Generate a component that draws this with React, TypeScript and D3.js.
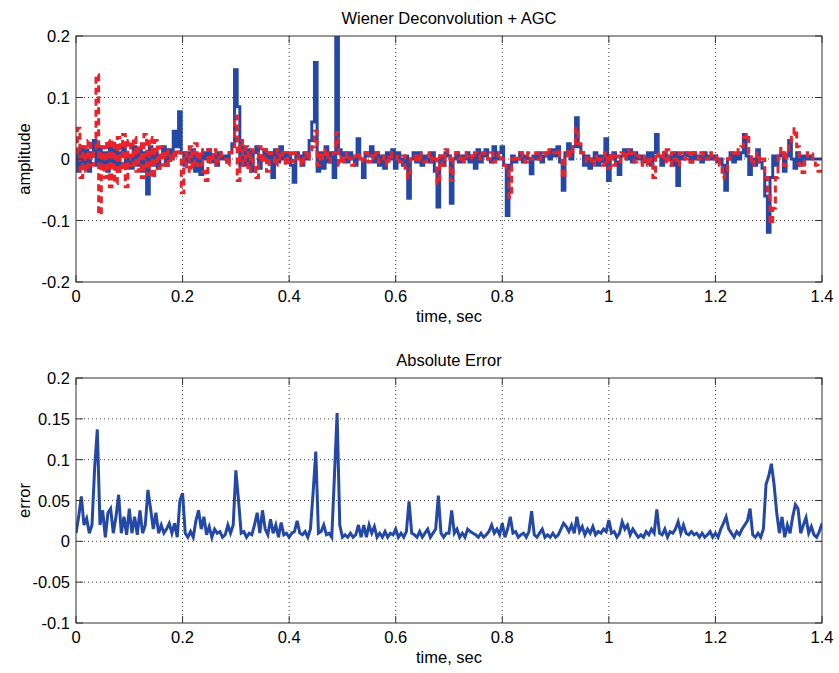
import React, { useRef, useEffect } from 'react';
import * as d3 from 'd3';

// samples every 5 ms, 0 .. 1.4 sec
const sampleStep = 0.005;

// blue trace (reference reflectivity)
const trueTrace = [
  0.01, -0.02, 0.02, -0.01, 0.015, -0.02, 0.01, 0.03, -0.01, 0.02, -0.015, 0.01, -0.02, 0.025, -0.01, 0.015, -0.02, 0.01, 0.02, -0.015,
  0.005, -0.015, 0.02, -0.01, 0.015, -0.02, 0.01, -0.057, 0.02, -0.01, 0.01, -0.015, 0.005, 0.02, -0.01, 0.015, 0.0, 0.045, 0.02, 0.077,
  0.01, -0.01, 0.01, -0.005, 0.015, -0.02, 0.005, -0.025, 0.01, 0.0, 0.015, -0.005, 0.005, -0.01, 0.01, 0.0, 0.005, -0.005, 0.01, 0.025,
  0.145, 0.085, -0.01, 0.02, -0.01, 0.015, -0.02, 0.01, 0.02, -0.015, 0.005, 0.015, -0.005, 0.01, -0.03, 0.015, -0.005, 0.02, 0.0, 0.01,
  0.005, -0.01, -0.038, 0.01, 0.005, -0.01, 0.01, 0.0, 0.03, 0.06, 0.157, -0.02, 0.01, -0.015, 0.02, -0.005, 0.01, -0.03, 0.215, 0.015,
  0.005, 0.01, -0.005, 0.01, 0.0, -0.01, 0.033, 0.0, -0.03, 0.01, 0.005, 0.02, -0.005, 0.01, -0.01, 0.005, -0.015, 0.01, 0.0, 0.015,
  -0.015, 0.01, 0.0, -0.01, 0.005, -0.064, 0.0, 0.01, -0.005, 0.01, -0.01, 0.005, 0.0, -0.005, 0.01, -0.02, -0.078, 0.005, -0.01, 0.01,
  0.005, -0.072, 0.0, 0.01, -0.005, 0.005, 0.0, 0.01, -0.005, 0.005, -0.015, 0.015, -0.005, 0.005, 0.015, 0.0, -0.005, 0.02, 0.0, 0.01,
  0.02, -0.01, -0.092, -0.01, 0.005, -0.005, 0.0, 0.01, -0.005, 0.005, 0.0, -0.024, 0.005, 0.0, 0.01, -0.005, 0.005, 0.01, 0.0, 0.015,
  0.005, 0.02, -0.005, -0.051, 0.01, 0.025, 0.0, 0.02, 0.067, 0.02, 0.01, -0.01, 0.005, -0.015, 0.0, 0.01, -0.01, 0.005, -0.005, 0.033,
  -0.035, 0.0, 0.01, -0.005, -0.025, 0.005, 0.015, 0.0, 0.015, -0.005, 0.01, 0.0, 0.005, -0.005, 0.0, 0.01, -0.01, 0.01, 0.04, 0.005,
  -0.01, 0.01, 0.0, 0.005, -0.01, 0.01, -0.043, 0.005, 0.0, 0.01, 0.005, -0.005, 0.01, 0.0, 0.005, -0.005, 0.01, 0.0, 0.005, 0.0,
  0.005, -0.005, 0.0, -0.01, -0.051, 0.0, 0.01, -0.005, 0.005, 0.0, 0.01, 0.04, 0.005, -0.025, 0.0, -0.01, 0.015, -0.005, -0.015, -0.06,
  -0.119, -0.03, 0.005, -0.01, 0.005, 0.01, -0.02, 0.005, 0.03, 0.0, -0.015, 0.01, -0.01, 0.005, 0.0, 0.0, 0.005, 0.0, 0.0, 0.0,
  0.0,
];

// red dashed trace (wiener deconvolution + agc estimate)
const estTrace = [
  0.01, 0.05, -0.03, 0.02, -0.02, 0.03, -0.01, 0.01, 0.137, -0.09, 0.02, -0.03, 0.03, -0.045, 0.03, -0.04, 0.035, -0.02, 0.04, -0.045,
  0.03, -0.01, 0.035, -0.02, 0.025, -0.03, 0.04, -0.025, 0.035, -0.03, 0.03, -0.015, 0.02, -0.01, 0.015, -0.01, 0.01, 0.0, 0.015, 0.01,
  -0.055, 0.01, -0.02, 0.02, -0.015, 0.025, -0.01, 0.015, -0.02, -0.035, 0.015, -0.005, 0.015, -0.01, 0.01, 0.005, 0.0, -0.01, 0.01, 0.02,
  0.07, -0.035, 0.03, -0.01, 0.02, -0.02, 0.015, -0.01, -0.03, 0.02, -0.005, 0.015, -0.02, 0.01, 0.005, -0.01, 0.015, 0.0, 0.01, -0.01,
  0.01, -0.005, 0.01, 0.0, 0.005, -0.01, 0.01, 0.0, 0.015, 0.02, 0.045, -0.01, 0.01, 0.0, 0.015, -0.005, 0.005, 0.01, 0.043, -0.01,
  0.005, -0.005, 0.01, 0.0, -0.01, 0.005, 0.01, -0.005, 0.0, 0.01, -0.005, 0.005, 0.0, 0.01, -0.005, 0.0, 0.005, -0.01, 0.01, 0.0,
  0.0, 0.005, -0.005, 0.005, -0.015, -0.03, 0.0, 0.005, -0.005, 0.01, 0.0, -0.005, 0.005, 0.01, -0.005, 0.0, -0.04, 0.005, -0.01, 0.015,
  0.005, -0.035, 0.0, 0.01, 0.0, 0.005, -0.005, 0.01, 0.005, 0.0, 0.01, 0.005, 0.0, 0.01, 0.005, 0.0, 0.01, -0.005, 0.005, 0.01,
  0.0, -0.01, -0.02, -0.062, 0.0, 0.005, 0.0, 0.01, 0.005, -0.005, 0.01, 0.0, 0.005, 0.01, 0.0, 0.005, 0.01, 0.005, 0.015, 0.01,
  0.01, 0.015, 0.005, -0.03, 0.0, 0.015, 0.005, 0.02, 0.05, 0.025, 0.01, 0.005, -0.005, 0.0, -0.01, 0.005, -0.005, 0.0, -0.01, 0.01,
  -0.015, 0.01, -0.01, 0.005, -0.005, 0.01, 0.0, 0.015, 0.005, 0.01, -0.005, 0.005, 0.0, -0.01, 0.005, -0.01, 0.0, -0.03, 0.01, 0.005,
  0.01, -0.005, 0.015, -0.01, 0.01, 0.0, -0.01, 0.01, 0.005, 0.0, 0.01, -0.005, 0.01, 0.005, 0.0, 0.01, 0.005, 0.0, 0.01, 0.005,
  0.0, 0.005, -0.01, -0.03, -0.02, 0.0, 0.005, 0.01, 0.005, 0.015, 0.02, 0.035, 0.04, 0.01, -0.01, 0.0, 0.01, -0.005, 0.0, -0.03,
  -0.06, -0.105, -0.08, -0.03, 0.005, 0.017, -0.01, 0.01, 0.025, 0.04, 0.049, 0.02, -0.01, -0.022, 0.0, 0.01, 0.008, 0.0, -0.01, -0.02,
  -0.02,
];

// absolute error
const absError = [
  0.01, 0.03, 0.055, 0.02, 0.028, 0.01, 0.02, 0.09, 0.137, 0.02, 0.038, 0.005, 0.035, 0.04, 0.01, 0.03, 0.057, 0.01, 0.03, 0.008,
  0.04, 0.01, 0.03, 0.008, 0.038, 0.01, 0.02, 0.063, 0.04, 0.015, 0.035, 0.01, 0.02, 0.01, 0.015, 0.022, 0.01, 0.022, 0.005, 0.05,
  0.059, 0.01, 0.005, 0.012, 0.005, 0.025, 0.038, 0.015, 0.03, 0.008, 0.018, 0.005, 0.015, 0.01, 0.012, 0.005, 0.008, 0.02, 0.01, 0.02,
  0.087, 0.05, 0.01, 0.012, 0.005, 0.01, 0.008, 0.02, 0.035, 0.01, 0.038, 0.015, 0.008, 0.027, 0.01, 0.02, 0.005, 0.023, 0.008, 0.01,
  0.005, 0.01, 0.012, 0.025, 0.01, 0.008, 0.012, 0.005, 0.015, 0.06, 0.11, 0.01, 0.012, 0.02, 0.008, 0.01, 0.005, 0.08, 0.157, 0.02,
  0.005, 0.008, 0.005, 0.01, 0.005, 0.008, 0.02, 0.005, 0.02, 0.005, 0.02, 0.01, 0.018, 0.005, 0.01, 0.005, 0.012, 0.005, 0.01, 0.008,
  0.015, 0.005, 0.01, 0.005, 0.012, 0.049, 0.01, 0.008, 0.005, 0.012, 0.005, 0.01, 0.015, 0.005, 0.01, 0.015, 0.056, 0.01, 0.005, 0.01,
  0.01, 0.038, 0.01, 0.015, 0.005, 0.01, 0.005, 0.015, 0.012, 0.01, 0.008, 0.005, 0.01, 0.005, 0.008, 0.012, 0.02, 0.01, 0.015, 0.008,
  0.022, 0.005, 0.015, 0.03, 0.01, 0.012, 0.005, 0.008, 0.01, 0.005, 0.012, 0.037, 0.008, 0.005, 0.01, 0.015, 0.005, 0.008, 0.005, 0.01,
  0.005, 0.008, 0.015, 0.022, 0.018, 0.012, 0.02, 0.01, 0.03, 0.012, 0.018, 0.008, 0.015, 0.01, 0.018, 0.008, 0.012, 0.01, 0.015, 0.012,
  0.026, 0.01, 0.012, 0.005, 0.01, 0.024, 0.015, 0.02, 0.008, 0.015, 0.01, 0.005, 0.008, 0.005, 0.012, 0.008, 0.015, 0.01, 0.039, 0.01,
  0.008, 0.015, 0.005, 0.012, 0.01, 0.015, 0.024, 0.01, 0.02, 0.01, 0.008, 0.012, 0.008, 0.01, 0.005, 0.01, 0.005, 0.008, 0.012, 0.005,
  0.01, 0.005, 0.015, 0.022, 0.03, 0.015, 0.01, 0.005, 0.012, 0.008, 0.015, 0.02, 0.025, 0.04, 0.008, 0.005, 0.01, 0.005, 0.015, 0.07,
  0.08, 0.095, 0.07, 0.035, 0.01, 0.03, 0.005, 0.02, 0.01, 0.03, 0.045, 0.04, 0.01, 0.02, 0.029, 0.01, 0.018, 0.008, 0.005, 0.012,
  0.022,
];

const timeTicks = [0, 0.2, 0.4, 0.6, 0.8, 1, 1.2, 1.4];
const timeTickLabels = ['0', '0.2', '0.4', '0.6', '0.8', '1', '1.2', '1.4'];
const ampTicks = [-0.2, -0.1, 0, 0.1, 0.2];
const ampTickLabels = ['-0.2', '-0.1', '0', '0.1', '0.2'];
const errTicks = [-0.1, -0.05, 0, 0.05, 0.1, 0.15, 0.2];
const errTickLabels = ['-0.1', '-0.05', '0', '0.05', '0.1', '0.15', '0.2'];

const WIDTH = 839;
const HEIGHT = 673;
const FONT = '"Liberation Sans", Arial, sans-serif';
const FONT_SIZE = '16.5px';
const BLUE = '#2448a6';
const RED = '#e8232b';

const drawPanel = (root, opts) => {
  const { id, top, bottom, left, right, yDomain, yTicks, yLabels, title, yTitle } = opts;

  const x = d3.scaleLinear().domain([0, 1.4]).range([left, right]);
  const y = d3.scaleLinear().domain(yDomain).range([bottom, top]);

  const g = root.append('g');

  g.append('rect')
    .attr('x', left).attr('y', top)
    .attr('width', right - left).attr('height', bottom - top)
    .attr('fill', '#fff');

  // dotted grid
  timeTicks.slice(1, -1).forEach((t) => {
    g.append('line')
      .attr('x1', x(t)).attr('x2', x(t))
      .attr('y1', top).attr('y2', bottom)
      .attr('stroke', '#444').attr('stroke-width', 1)
      .attr('stroke-dasharray', '1,3');
  });
  yTicks.slice(1, -1).forEach((v) => {
    g.append('line')
      .attr('x1', left).attr('x2', right)
      .attr('y1', y(v)).attr('y2', y(v))
      .attr('stroke', '#444').attr('stroke-width', 1)
      .attr('stroke-dasharray', '1,3');
  });

  root.append('clipPath').attr('id', id)
    .append('rect')
    .attr('x', left).attr('y', top)
    .attr('width', right - left).attr('height', bottom - top);

  opts.series.forEach((s) => {
    const line = d3.line()
      .x((d, i) => x(i * sampleStep))
      .y((d) => y(d))
      .curve(s.stepped ? d3.curveStep : d3.curveLinear);

    g.append('path')
      .attr('clip-path', `url(#${id})`)
      .attr('d', line(s.values))
      .attr('fill', 'none')
      .attr('stroke', s.color)
      .attr('stroke-width', 3)
      .attr('stroke-dasharray', s.dash || null);
  });

  // box
  g.append('rect')
    .attr('x', left).attr('y', top)
    .attr('width', right - left).attr('height', bottom - top)
    .attr('fill', 'none')
    .attr('stroke', '#333').attr('stroke-width', 1);

  // inward ticks on all four sides
  timeTicks.forEach((t, i) => {
    g.append('line').attr('x1', x(t)).attr('x2', x(t)).attr('y1', bottom).attr('y2', bottom - 7).attr('stroke', '#333');
    g.append('line').attr('x1', x(t)).attr('x2', x(t)).attr('y1', top).attr('y2', top + 7).attr('stroke', '#333');
    g.append('text')
      .attr('x', x(t)).attr('y', bottom + 20)
      .attr('text-anchor', 'middle')
      .style('font-family', FONT).style('font-size', FONT_SIZE)
      .text(timeTickLabels[i]);
  });
  yTicks.forEach((v, i) => {
    g.append('line').attr('x1', left).attr('x2', left + 7).attr('y1', y(v)).attr('y2', y(v)).attr('stroke', '#333');
    g.append('line').attr('x1', right).attr('x2', right - 7).attr('y1', y(v)).attr('y2', y(v)).attr('stroke', '#333');
    g.append('text')
      .attr('x', left - 6).attr('y', y(v) + 6)
      .attr('text-anchor', 'end')
      .style('font-family', FONT).style('font-size', FONT_SIZE)
      .text(yLabels[i]);
  });

  g.append('text')
    .attr('x', (left + right) / 2).attr('y', top - 12)
    .attr('text-anchor', 'middle')
    .style('font-family', FONT).style('font-size', FONT_SIZE)
    .text(title);

  g.append('text')
    .attr('x', (left + right) / 2).attr('y', bottom + 40)
    .attr('text-anchor', 'middle')
    .style('font-family', FONT).style('font-size', FONT_SIZE)
    .text('time, sec');

  g.append('text')
    .attr('transform', `translate(${left - 46},${(top + bottom) / 2}) rotate(-90)`)
    .attr('text-anchor', 'middle')
    .style('font-family', FONT).style('font-size', FONT_SIZE)
    .text(yTitle);
};

const App = () => {
  const ref = useRef(null);

  useEffect(() => {
    const svg = d3.select(ref.current);
    svg.selectAll('*').remove();

    svg.append('rect').attr('width', WIDTH).attr('height', HEIGHT).attr('fill', '#fff');

    drawPanel(svg, {
      id: 'clip-top',
      top: 36, bottom: 282, left: 76, right: 822,
      yDomain: [-0.2, 0.2], yTicks: ampTicks, yLabels: ampTickLabels,
      title: 'Wiener Deconvolution + AGC', yTitle: 'amplitude',
      series: [
        { values: trueTrace, color: BLUE, stepped: true },
        { values: estTrace, color: RED, dash: '7,4', stepped: true },
      ],
    });

    drawPanel(svg, {
      id: 'clip-bottom',
      top: 378, bottom: 623, left: 76, right: 822,
      yDomain: [-0.1, 0.2], yTicks: errTicks, yLabels: errTickLabels,
      title: 'Absolute Error', yTitle: 'error',
      series: [{ values: absError, color: BLUE }],
    });
  }, []);

  return (
    <svg
      ref={ref}
      width={WIDTH}
      height={HEIGHT}
      style={{ position: 'absolute', left: 0, top: 0, display: 'block' }}
    />
  );
};

export default App;
